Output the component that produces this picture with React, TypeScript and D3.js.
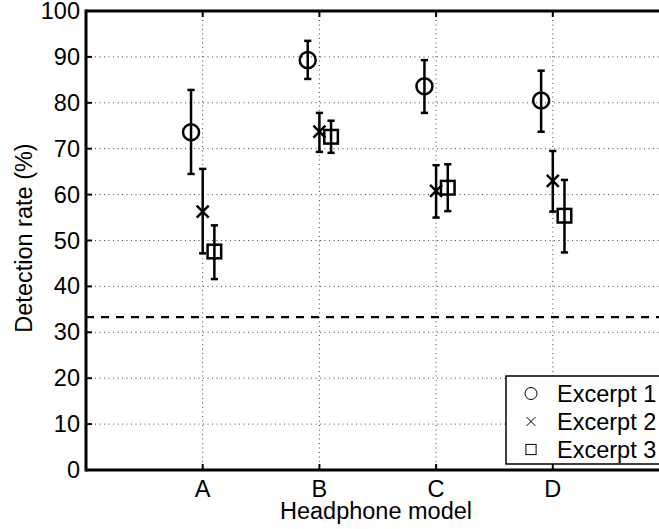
import React from "react";
import * as d3 from "d3";

const categories = ["A", "B", "C", "D"];
const seriesNames = ["Excerpt 1", "Excerpt 2", "Excerpt 3"];
const excerpt1 = [73.6, 89.3, 83.6, 80.5];
const excerpt1Low = [64.5, 85.2, 77.8, 73.7];
const excerpt1High = [82.8, 93.5, 89.3, 87.0];
const excerpt2 = [56.3, 73.7, 60.8, 63.0];
const excerpt2Low = [47.2, 69.3, 55.0, 56.3];
const excerpt2High = [65.6, 77.8, 66.4, 69.5];
const excerpt3 = [47.6, 72.6, 61.5, 55.4];
const excerpt3Low = [41.6, 69.1, 56.4, 47.4];
const excerpt3High = [53.3, 76.1, 66.6, 63.2];
const yTicks = [0, 10, 20, 30, 40, 50, 60, 70, 80, 90, 100];
const chanceLevel = 33.3;

const W = 659;
const H = 529;
const FONT = "'Liberation Sans', Arial, Helvetica, sans-serif";
const FS = 23.5;

export default function App() {
  const x = d3.scaleLinear().domain([0, 5]).range([86, 86 + 5 * 116.7]);
  const y = d3.scaleLinear().domain([0, 100]).range([470, 11]);
  const offsets = [-0.1, 0, 0.1];
  const series = [
    { v: excerpt1, lo: excerpt1Low, hi: excerpt1High, shape: "circle" },
    { v: excerpt2, lo: excerpt2Low, hi: excerpt2High, shape: "x" },
    { v: excerpt3, lo: excerpt3Low, hi: excerpt3High, shape: "square" },
  ];
  const left = x(0);
  const right = W + 5;
  const top = y(100);
  const bottom = y(0);

  const marker = (shape: string, cx: number, cy: number, size: number, sw: number, key: string) => {
    if (shape === "circle")
      return <circle key={key} cx={cx} cy={cy} r={size} fill="none" stroke="#000" strokeWidth={sw} />;
    if (shape === "x") {
      const s = size * 0.75;
      return (
        <path key={key} d={`M${cx - s},${cy - s}L${cx + s},${cy + s}M${cx - s},${cy + s}L${cx + s},${cy - s}`} stroke="#000" strokeWidth={sw} fill="none" />
      );
    }
    const s = size * 0.85;
    return <rect key={key} x={cx - s} y={cy - s} width={2 * s} height={2 * s} fill="none" stroke="#000" strokeWidth={sw} />;
  };

  return (
    <svg width={W} height={H} style={{ position: "absolute", left: 0, top: 0, background: "#fff" }} fontFamily={FONT}>
      <rect x={0} y={0} width={W} height={H} fill="#fff" />
      {/* grid */}
      <g stroke="#444" strokeWidth={1} strokeDasharray="1,3.5">
        {yTicks.filter((t) => t > 0 && t < 100).map((t) => (
          <line key={"gy" + t} x1={left} x2={right} y1={y(t)} y2={y(t)} />
        ))}
        {categories.map((c, i) => (
          <line key={"gx" + c} x1={x(i + 1)} x2={x(i + 1)} y1={top} y2={bottom} />
        ))}
      </g>
      {/* chance line */}
      <line x1={left} x2={right} y1={y(chanceLevel)} y2={y(chanceLevel)} stroke="#000" strokeWidth={2.4} strokeDasharray="8,7" />
      {/* data */}
      {series.map((s, si) =>
        categories.map((c, i) => {
          const cx = x(i + 1 + offsets[si]);
          return (
            <g key={si + "-" + c}>
              <line x1={cx} x2={cx} y1={y(s.lo[i])} y2={y(s.hi[i])} stroke="#000" strokeWidth={2.5} />
              <line x1={cx - 3.6} x2={cx + 3.6} y1={y(s.lo[i])} y2={y(s.lo[i])} stroke="#000" strokeWidth={2.5} />
              <line x1={cx - 3.6} x2={cx + 3.6} y1={y(s.hi[i])} y2={y(s.hi[i])} stroke="#000" strokeWidth={2.5} />
              {marker(s.shape, cx, y(s.v[i]), 8, 2.5, "m")}
            </g>
          );
        })
      )}
      {/* axes */}
      <g stroke="#000" strokeWidth={3} fill="none">
        <line x1={left} x2={right} y1={top} y2={top} />
        <line x1={left} x2={right} y1={bottom} y2={bottom} />
        <line x1={left} x2={left} y1={top - 1.5} y2={bottom + 1.5} />
        {yTicks.map((t) => (
          <line key={"ty" + t} x1={left} x2={left + 6} y1={y(t)} y2={y(t)} strokeWidth={2} />
        ))}
        {categories.map((c, i) => (
          <g key={"tx" + c}>
            <line x1={x(i + 1)} x2={x(i + 1)} y1={bottom} y2={bottom - 6} strokeWidth={2} />
            <line x1={x(i + 1)} x2={x(i + 1)} y1={top} y2={top + 6} strokeWidth={2} />
          </g>
        ))}
      </g>
      {/* legend */}
      <g>
        <rect x={506} y={376} width={170} height={88} fill="#fff" stroke="#000" strokeWidth={1.5} />
        {seriesNames.map((n, i) => {
          const ly = 393.5 + i * 28;
          return (
            <g key={n}>
              {marker(series[i].shape, 531, ly, 6, 1, "lm")}
              <text x={557} y={ly + 8} fontSize={FS} fill="#000">{n}</text>
            </g>
          );
        })}
      </g>
      {/* tick labels */}
      {yTicks.map((t) => (
        <text key={"ly" + t} x={left - 6} y={y(t) + 8} fontSize={FS} textAnchor="end" fill="#000">{t}</text>
      ))}
      {categories.map((c, i) => (
        <text key={"lx" + c} x={x(i + 1)} y={497} fontSize={FS} textAnchor="middle" fill="#000">{c}</text>
      ))}
      <text x={376} y={519} fontSize={FS} textAnchor="middle" fill="#000">Headphone model</text>
      <text transform={`translate(32,238) rotate(-90)`} fontSize={FS} textAnchor="middle" fill="#000">Detection rate (%)</text>
    </svg>
  );
}
